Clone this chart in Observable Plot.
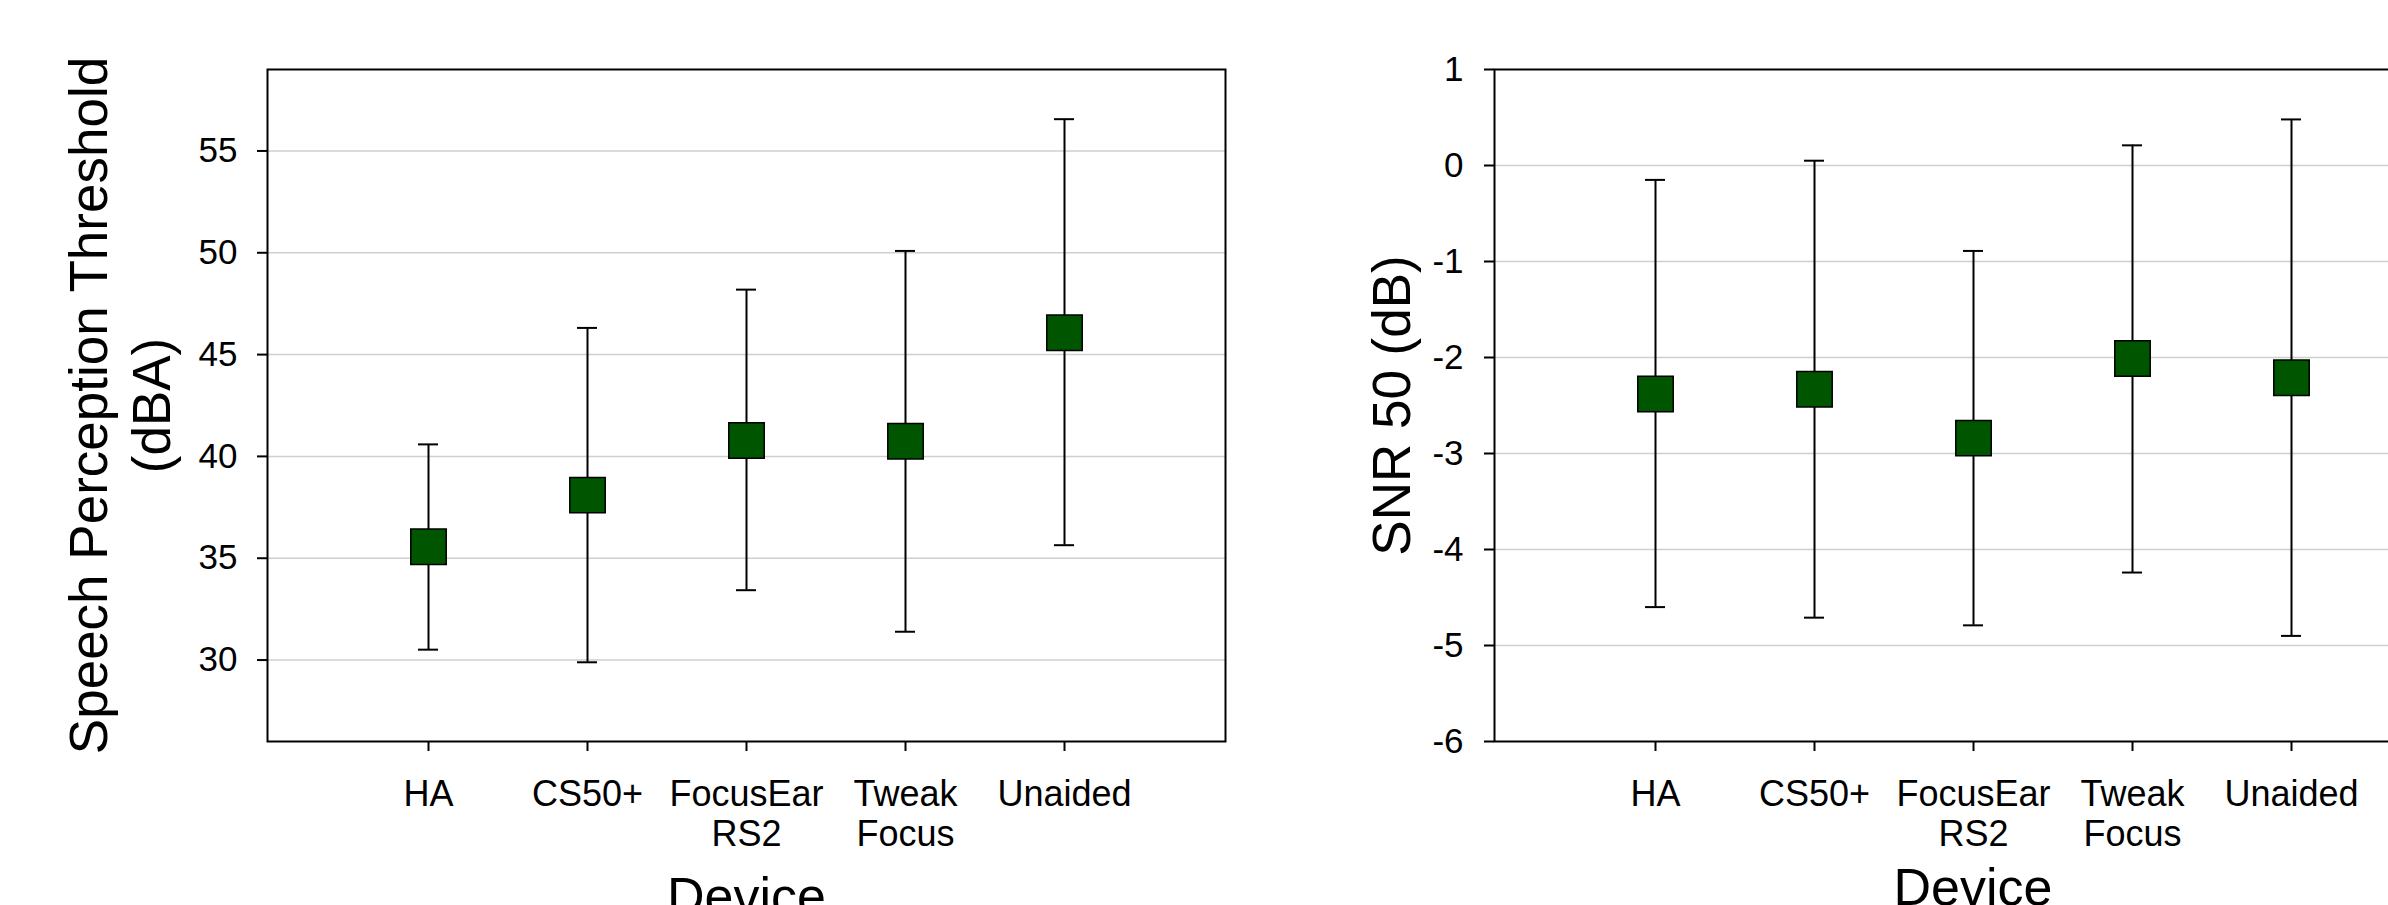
<!DOCTYPE html>
<html>
<head>
<meta charset="utf-8">
<script src="https://cdn.jsdelivr.net/npm/d3@7"></script>
<script src="https://cdn.jsdelivr.net/npm/@observablehq/plot@0.6"></script>
<style>
  html, body { margin: 0; padding: 0; background: #fff; overflow: hidden; }
  #wrap { position: relative; width: 2388px; height: 905px; overflow: hidden; background: #fff; }
  #left, #right { position: absolute; top: 0; width: 1300px; height: 905px; }
  #left { left: 0; }
  #right { left: 1200px; }
  #wrap svg { max-width: none !important; background: transparent !important; font-family: "Liberation Sans", Arial, sans-serif; }
</style>
</head>
<body>
<div id="wrap"><div id="left"></div><div id="right"></div></div>
<script>
// Categories
const devices = ["HA", "CS50+", "FocusEar RS2", "Tweak Focus", "Unaided"];
const deviceLabels = ["HA", "CS50+", "FocusEar\nRS2", "Tweak\nFocus", "Unaided"];

// Left panel: Speech Perception Threshold (dBA)
const sptMean  = [35.56, 38.10, 40.78, 40.74, 46.07];
const sptUpper = [40.59, 46.31, 48.19, 50.09, 56.56];
const sptLower = [30.51, 29.89, 33.43, 31.39, 35.64];
const sptTicks = [30, 35, 40, 45, 50, 55];
const sptDomain = [26, 59];

// Right panel: SNR 50 (dB)
const snrMean  = [-2.38, -2.33, -2.84, -2.01, -2.21];
const snrUpper = [-0.15, 0.05, -0.89, 0.21, 0.48];
const snrLower = [-4.60, -4.71, -4.79, -4.24, -4.90];
const snrTicks = [1, 0, -1, -2, -3, -4, -5, -6];
const snrGrid  = [0, -1, -2, -3, -4, -5];
const snrDomain = [-6, 1];

const labelMap = new Map(devices.map((d, i) => [d, deviceLabels[i]]));

function makeChart({mean, upper, lower, ticks, grid, domain, marginLeft, marginRight, yLabel, yLabelDx, yLabelLH, deviceDy, tickPadding}) {
  const rows = devices.map((d, i) => ({device: d, mean: mean[i], upper: upper[i], lower: lower[i]}));
  return Plot.plot({
    width: 1300,
    height: 905,
    marginLeft,
    marginRight,
    marginTop: 69,
    marginBottom: 164,
    style: {fontFamily: "'Liberation Sans', Arial, sans-serif", background: "transparent", overflow: "visible", maxWidth: "none"},
    x: {type: "band", domain: devices, paddingInner: 0.875, paddingOuter: 0.9375},
    y: {domain},
    marks: [
      Plot.gridY(grid, {stroke: "#cfcfcf", strokeOpacity: 1, strokeWidth: 1.5}),
      Plot.axisY(ticks, {tickSize: 10, tickPadding, fontSize: 35, stroke: "black", strokeWidth: 2, label: null, fill: "black",
        tickFormat: d => String(d)}),
      Plot.axisX({tickSize: 10, tickPadding: 26, fontSize: 36, lineHeight: 1.11, stroke: "black", strokeWidth: 2, label: null, fill: "black",
        tickFormat: d => labelMap.get(d)}),
      Plot.ruleX(rows, {x: "device", y1: "lower", y2: "upper", stroke: "black", strokeWidth: 2}),
      Plot.tickY(rows, {x: "device", y: "upper", stroke: "black", strokeWidth: 2}),
      Plot.tickY(rows, {x: "device", y: "lower", stroke: "black", strokeWidth: 2}),
      Plot.dot(rows, {x: "device", y: "mean", symbol: "square", r: 20, fill: "#005500", stroke: "black", strokeWidth: 1.5}),
      Plot.frame({stroke: "black", strokeWidth: 2}),
      Plot.text([yLabel], {frameAnchor: "left", rotate: -90, dx: yLabelDx, fontSize: 53, lineHeight: yLabelLH, textAnchor: "middle", lineAnchor: "middle", fill: "black", text: d => d}),
      Plot.text(["Device"], {frameAnchor: "bottom", dy: deviceDy, fontSize: 52, textAnchor: "middle", lineAnchor: "top", fill: "black", text: d => d})
    ]
  });
}

document.getElementById("left").appendChild(makeChart({
  mean: sptMean, upper: sptUpper, lower: sptLower,
  ticks: sptTicks, grid: sptTicks, domain: sptDomain,
  marginLeft: 267, marginRight: 75,
  yLabel: "Speech Perception Threshold\n(dBA)", yLabelDx: -149, yLabelLH: 1.19,
  deviceDy: 136, tickPadding: 20
}));

document.getElementById("right").appendChild(makeChart({
  mean: snrMean, upper: snrUpper, lower: snrLower,
  ticks: snrTicks, grid: snrGrid, domain: snrDomain,
  marginLeft: 294, marginRight: 49,
  yLabel: "SNR 50 (dB)", yLabelDx: -105, yLabelLH: 1.2,
  deviceDy: 127, tickPadding: 21
}));
</script>
</body>
</html>
